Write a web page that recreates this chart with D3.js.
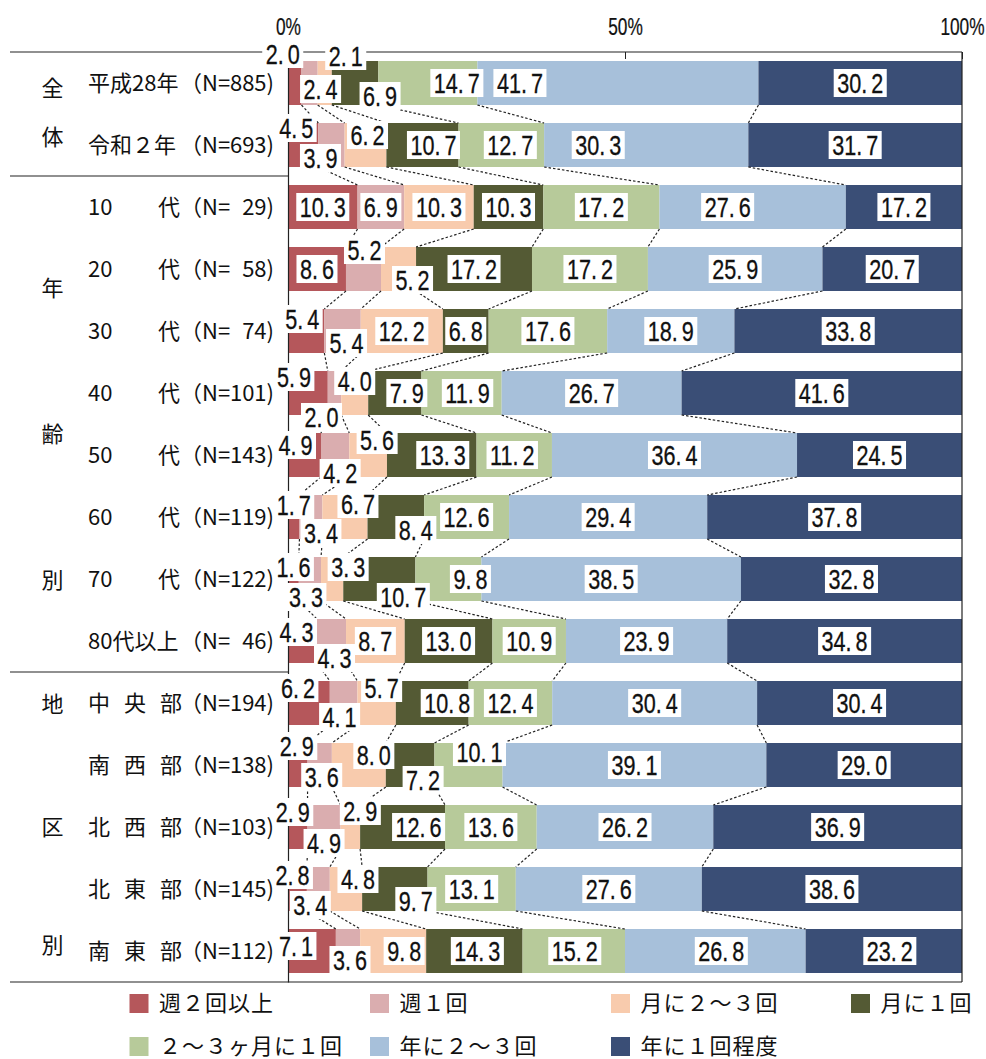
<!DOCTYPE html>
<html><head><meta charset="utf-8">
<script src="https://cdn.jsdelivr.net/npm/d3@7"></script>
<style>body{margin:0;background:#fff;} svg{display:block;}</style>
</head><body><svg id="chart" width="986" height="1059"></svg>
<script>
// ---------------- DATA ----------------
const categories = ["平成28年","令和２年","10代","20代","30代","40代","50代","60代","70代","80代以上","中央部","南西部","北西部","北東部","南東部"];
const sampleSizes = [885,693,29,58,74,101,143,119,122,46,194,138,103,145,112];
const seriesNames = ["週２回以上","週１回","月に２～３回","月に１回","２～３ヶ月に１回","年に２～３回","年に１回程度"];
const weekly2plus = [2.0,4.5,10.3,8.6,5.4,5.9,4.9,1.7,1.6,4.3,6.2,2.9,2.9,2.8,7.1];
const weekly1     = [2.4,3.9,6.9,5.2,5.4,2.0,4.2,3.4,3.3,4.3,4.1,3.6,4.9,3.4,3.6];
const monthly2to3 = [2.1,6.2,10.3,5.2,12.2,4.0,5.6,6.7,3.3,8.7,5.7,8.0,2.9,4.8,9.8];
const monthly1    = [6.9,10.7,10.3,17.2,6.8,7.9,13.3,8.4,10.7,13.0,10.8,7.2,12.6,9.7,14.3];
const every2to3m  = [14.7,12.7,17.2,17.2,17.6,11.9,11.2,12.6,9.8,10.9,12.4,10.1,13.6,13.1,15.2];
const yearly2to3  = [41.7,30.3,27.6,25.9,18.9,26.7,36.4,29.4,38.5,23.9,30.4,39.1,26.2,27.6,26.8];
const yearly1     = [30.2,31.7,17.2,20.7,33.8,41.6,24.5,37.8,32.8,34.8,30.4,29.0,36.9,38.6,23.2];
const seriesValues = [weekly2plus,weekly1,monthly2to3,monthly1,every2to3m,yearly2to3,yearly1];
const groupNames = ["全体","年齢別","地区別"];
const tickValues = [0,0.5,1];
const tickLabels = ["0%","50%","100%"];

// ---------------- STYLE / LAYOUT ----------------
const colors = ["#B5575B","#DAADAF","#F8CBAD","#545A34","#B7CA9A","#A7C0DA","#3A4E76"];
// label offsets [dx,dy] from segment centre, per row, per series
const labelOffsets = [
 [[-12,-29],[11,6],[21,-27],[25,13],[29,0],[-98,0],[0,0]],
 [[-7,-17],[-11,13],[2,-10],[11,0],[9,0],[-48,0],[0,0]],
 [[0,0],[0,0],[0,0],[0,0],[0,0],[-25,0],[0,0]],
 [[0,0],[1,-19],[14,11],[0,0],[0,0],[0,0],[0,0]],
 [[-4,-12],[4,12],[0,0],[0,0],[0,0],[0,0],[0,0]],
 [[-14,-16],[-13,24],[0,-12],[12,0],[6,0],[0,0],[0,0]],
 [[-9,-10],[5,18],[9,-15],[11,0],[-2,0],[0,0],[0,0]],
 [[0,-12],[10,16],[13,-13],[20,13],[0,0],[0,0],[0,0]],
 [[0,-12],[-4,18],[16,-12],[24,18],[22,0],[0,0],[0,0]],
 [[-6,-9],[3,17],[0,0],[0,0],[0,0],[0,0],[0,0]],
 [[-11,-15],[-4,14],[5,-15],[15,0],[0,0],[0,0],[0,0]],
 [[-1,-19],[2,12],[15,-10],[13,15],[11,-13],[0,0],[0,0]],
 [[-5,-15],[0,16],[10,-16],[16,0],[0,0],[0,0],[0,0]],
 [[-5,-14],[-8,16],[12,-10],[21,12],[0,0],[0,0],[0,0]],
 [[-16,-5],[2,9],[11,0],[3,0],[1,0],[6,0],[6,0]]
];
const groupCharY = [[88,137],[288,434,580],[704,827,945]];
const JP = "'Noto Sans CJK JP','Noto Sans CJK SC',sans-serif";
const NUM = "'Liberation Sans',Arial,sans-serif";

const svg = d3.select("#chart");
const x = d3.scaleLinear().domain([0,1]).range([288,962]);
const y = d3.scaleBand().domain(categories).range([52,982]).paddingInner(18/62).paddingOuter(9/62);
const bw = y.bandwidth();

const table = categories.map((c,i)=>{const o={category:c}; seriesNames.forEach((k,j)=>o[k]=seriesValues[j][i]); return o;});
const stacked = d3.stack().keys(seriesNames).offset(d3.stackOffsetExpand)(table);

// bars
svg.append("g").selectAll("g").data(stacked).join("g").attr("fill",(d,i)=>colors[i])
  .selectAll("rect").data(d=>d).join("rect")
  .attr("x",d=>x(d[0])).attr("y",d=>y(d.data.category))
  .attr("width",d=>x(d[1])-x(d[0])).attr("height",bw);

// series lines
const sl = svg.append("g").attr("stroke","#222").attr("stroke-width",1.2).attr("stroke-dasharray","2.5,2").attr("fill","none");
stacked.slice(0,6).forEach(ser=>{
  for(let i=0;i<ser.length-1;i++){
    sl.append("line")
      .attr("x1",x(ser[i][1])).attr("y1",y(categories[i])+bw)
      .attr("x2",x(ser[i+1][1])).attr("y2",y(categories[i+1]));
  }
});

// frame lines
const fr = svg.append("g").attr("stroke","#222").attr("stroke-width",1.2);
fr.append("line").attr("x1",10).attr("x2",x(1)).attr("y1",52).attr("y2",52);
fr.append("line").attr("x1",10).attr("x2",x(1)).attr("y1",982).attr("y2",982);
fr.append("line").attr("x1",x(1)).attr("x2",x(1)).attr("y1",52).attr("y2",982);
[2,10].forEach(r=>{
  const yy = y(categories[r]) - y.step()*y.paddingInner()/2;
  fr.append("line").attr("x1",10).attr("x2",x(0)).attr("y1",yy).attr("y2",yy);
});

// y axis line
const ya = svg.append("g").attr("transform",`translate(${x(0)},0)`)
  .call(d3.axisLeft(y).tickSize(0).tickSizeOuter(0).tickFormat(""));
ya.select(".domain").attr("stroke","#222").attr("stroke-width",1.2);

// x axis (top)
const xa = svg.append("g").attr("transform","translate(0,52)")
  .call(d3.axisTop(x).tickValues(tickValues).tickSize(-7).tickSizeOuter(0).tickPadding(17).tickFormat((d,i)=>tickLabels[i]));
xa.select(".domain").remove();
xa.selectAll("line").attr("stroke","#222");
xa.selectAll("text").attr("font-family",NUM).attr("font-size",24).attr("fill","#111")
  .attr("stroke","#111").attr("stroke-width",0.25).attr("transform","scale(0.72,1)");

// value labels
const lbl = svg.append("g");
stacked.forEach((ser,k)=>{
  ser.forEach((d,i)=>{
    const v = seriesValues[k][i];
    const off = labelOffsets[i][k];
    const cx = (x(d[0])+x(d[1]))/2 + off[0];
    const cy = y(d.data.category) + bw/2 + off[1];
    const g = lbl.append("g").attr("transform",`translate(${cx},${cy})`);
    const rect = g.append("rect").attr("fill","#fff");
    const t = g.append("text").attr("transform","scale(0.8,1)").attr("text-anchor","middle")
      .attr("y",9.5).attr("font-family",NUM).attr("font-size",27).attr("fill","#111")
      .attr("stroke","#111").attr("stroke-width",0.3);
    const s = v.toFixed(1).split(".");
    t.append("tspan").text(s[0]+".");
    t.append("tspan").attr("dx",5).text(s[1]);
    const bb = t.node().getBBox();
    const w = bb.width*0.8+7;
    rect.attr("x",-w/2).attr("y",-14).attr("width",w).attr("height",28);
  });
});

// category labels
const cl = svg.append("g").attr("font-family",JP).attr("font-size",22).attr("fill","#111");
categories.forEach((c,i)=>{
  const by = y(c)+bw/2+8;
  if(/^\d+代$/.test(c)){
    cl.append("text").attr("x",88).attr("y",by).text(c.slice(0,-1));
    cl.append("text").attr("x",180).attr("y",by).attr("text-anchor","end").text("代");
  } else if(i>=10){
    const t = cl.append("text").attr("y",by);
    [...c].forEach((ch,j)=>t.append("tspan").attr("x",88+j*36).text(ch));
  } else {
    cl.append("text").attr("x",88).attr("y",by).text(c);
  }
  cl.append("text").attr("x",180).attr("y",by).text("（N=");
  cl.append("text").attr("x",274).attr("y",by).attr("text-anchor","end").text(sampleSizes[i]+")");
});

// group labels
groupNames.forEach((g,gi)=>{
  [...g].forEach((ch,j)=>{
    cl.append("text").attr("x",52.5).attr("y",groupCharY[gi][j]+8).attr("text-anchor","middle").text(ch);
  });
});

// legend
const legCols=[129.5,370,611,851], legRows=[994,1037];
const lg = svg.append("g");
seriesNames.forEach((n,k)=>{
  const col = k<4?k:k-4, row = k<4?0:1;
  lg.append("rect").attr("x",legCols[col]).attr("y",legRows[row]).attr("width",19).attr("height",19).attr("fill",colors[k]);
  lg.append("text").attr("x",legCols[col]+29.5).attr("y",legRows[row]+16.5)
    .attr("font-family",JP).attr("font-size",22).attr("letter-spacing",1).attr("fill","#111").text(n);
});
</script></body></html>
